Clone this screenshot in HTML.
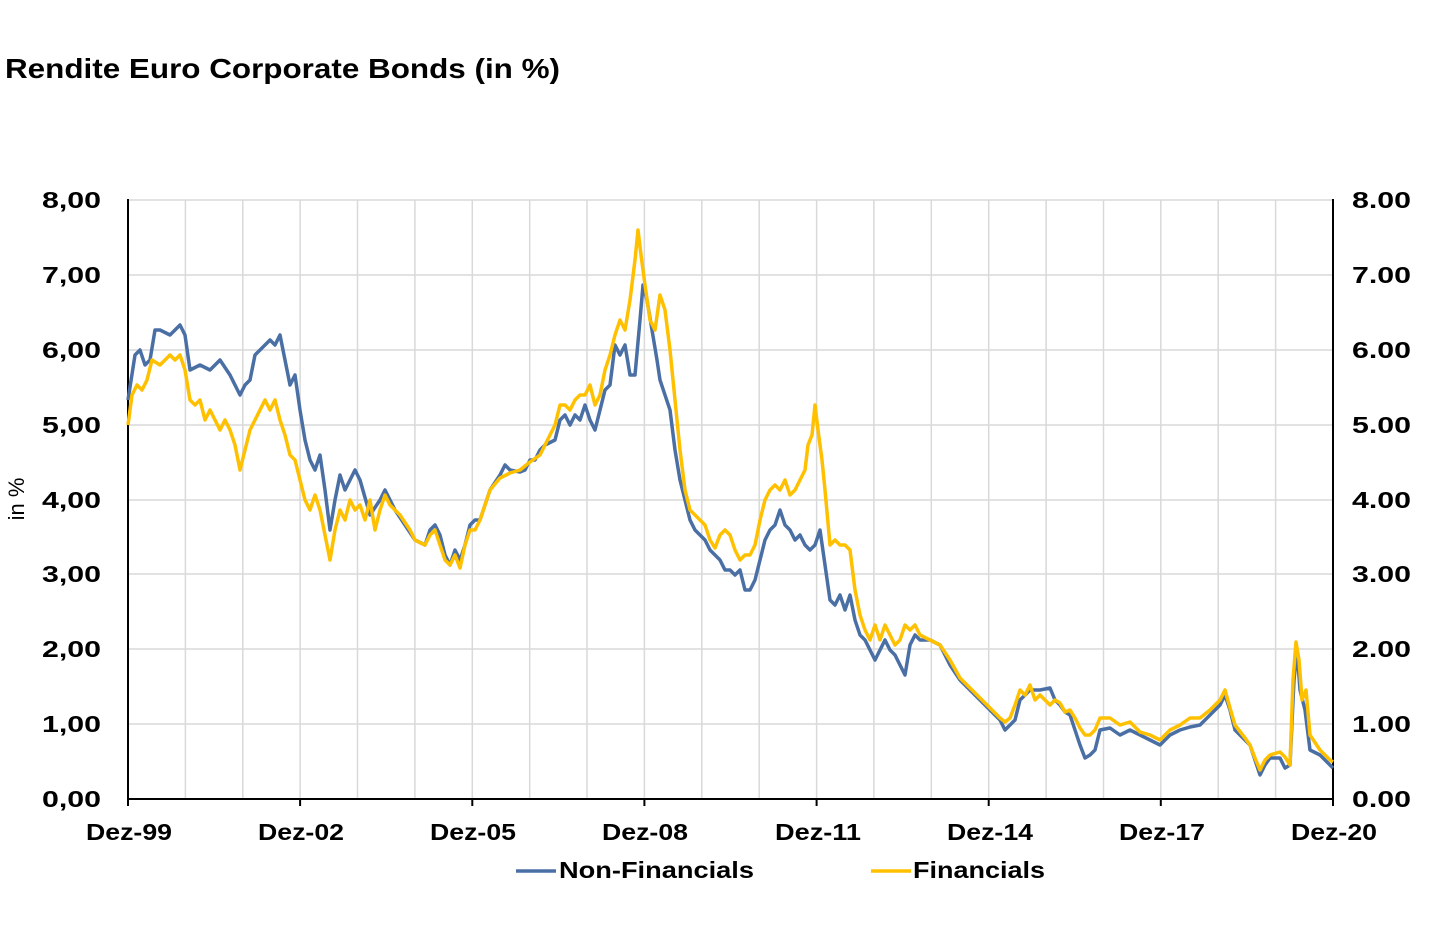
<!DOCTYPE html>
<html><head><meta charset="utf-8"><style>
body{margin:0;background:#fff;}
svg{display:block;font-family:"Liberation Sans",Arial,sans-serif;}
</style></head><body>
<svg width="1438" height="946" viewBox="0 0 1438 946" xmlns="http://www.w3.org/2000/svg">
<rect width="1438" height="946" fill="#fff"/>
<text x="5" y="78" font-size="28" font-weight="bold" fill="#000" textLength="555" lengthAdjust="spacingAndGlyphs">Rendite Euro Corporate Bonds (in %)</text>
<g stroke="#d9d9d9" stroke-width="1.5">
<line x1="128" y1="200" x2="1333" y2="200"/><line x1="128" y1="275" x2="1333" y2="275"/>
<line x1="128" y1="350" x2="1333" y2="350"/><line x1="128" y1="425" x2="1333" y2="425"/>
<line x1="128" y1="500" x2="1333" y2="500"/><line x1="128" y1="574" x2="1333" y2="574"/>
<line x1="128" y1="649" x2="1333" y2="649"/><line x1="128" y1="724" x2="1333" y2="724"/>
<line x1="185.4" y1="200" x2="185.4" y2="799"/><line x1="242.8" y1="200" x2="242.8" y2="799"/>
<line x1="300.1" y1="200" x2="300.1" y2="799"/><line x1="357.5" y1="200" x2="357.5" y2="799"/>
<line x1="414.9" y1="200" x2="414.9" y2="799"/><line x1="472.3" y1="200" x2="472.3" y2="799"/>
<line x1="529.7" y1="200" x2="529.7" y2="799"/><line x1="587" y1="200" x2="587" y2="799"/>
<line x1="644.4" y1="200" x2="644.4" y2="799"/><line x1="701.8" y1="200" x2="701.8" y2="799"/>
<line x1="759.2" y1="200" x2="759.2" y2="799"/><line x1="816.6" y1="200" x2="816.6" y2="799"/>
<line x1="873.9" y1="200" x2="873.9" y2="799"/><line x1="931.3" y1="200" x2="931.3" y2="799"/>
<line x1="988.7" y1="200" x2="988.7" y2="799"/><line x1="1046.1" y1="200" x2="1046.1" y2="799"/>
<line x1="1103.5" y1="200" x2="1103.5" y2="799"/><line x1="1160.8" y1="200" x2="1160.8" y2="799"/>
<line x1="1218.2" y1="200" x2="1218.2" y2="799"/><line x1="1275.6" y1="200" x2="1275.6" y2="799"/>
</g>
<g stroke="#000" stroke-width="2">
<line x1="128" y1="199" x2="128" y2="800"/><line x1="1333" y1="199" x2="1333" y2="800"/>
<line x1="127" y1="799" x2="1334" y2="799"/>
<line x1="128" y1="799" x2="128" y2="806"/><line x1="300.1" y1="799" x2="300.1" y2="806"/>
<line x1="472.3" y1="799" x2="472.3" y2="806"/><line x1="644.4" y1="799" x2="644.4" y2="806"/>
<line x1="816.6" y1="799" x2="816.6" y2="806"/><line x1="988.7" y1="799" x2="988.7" y2="806"/>
<line x1="1160.8" y1="799" x2="1160.8" y2="806"/><line x1="1333" y1="799" x2="1333" y2="806"/>
</g>
<g font-size="23" font-weight="bold" fill="#000">
<text x="42" y="208" textLength="59" lengthAdjust="spacingAndGlyphs">8,00</text>
<text x="42" y="283" textLength="59" lengthAdjust="spacingAndGlyphs">7,00</text>
<text x="42" y="358" textLength="59" lengthAdjust="spacingAndGlyphs">6,00</text>
<text x="42" y="433" textLength="59" lengthAdjust="spacingAndGlyphs">5,00</text>
<text x="42" y="508" textLength="59" lengthAdjust="spacingAndGlyphs">4,00</text>
<text x="42" y="582" textLength="59" lengthAdjust="spacingAndGlyphs">3,00</text>
<text x="42" y="657" textLength="59" lengthAdjust="spacingAndGlyphs">2,00</text>
<text x="42" y="732" textLength="59" lengthAdjust="spacingAndGlyphs">1,00</text>
<text x="42" y="807" textLength="59" lengthAdjust="spacingAndGlyphs">0,00</text>
<text x="1352" y="208" textLength="59" lengthAdjust="spacingAndGlyphs">8.00</text>
<text x="1352" y="283" textLength="59" lengthAdjust="spacingAndGlyphs">7.00</text>
<text x="1352" y="358" textLength="59" lengthAdjust="spacingAndGlyphs">6.00</text>
<text x="1352" y="433" textLength="59" lengthAdjust="spacingAndGlyphs">5.00</text>
<text x="1352" y="508" textLength="59" lengthAdjust="spacingAndGlyphs">4.00</text>
<text x="1352" y="582" textLength="59" lengthAdjust="spacingAndGlyphs">3.00</text>
<text x="1352" y="657" textLength="59" lengthAdjust="spacingAndGlyphs">2.00</text>
<text x="1352" y="732" textLength="59" lengthAdjust="spacingAndGlyphs">1.00</text>
<text x="1352" y="807" textLength="59" lengthAdjust="spacingAndGlyphs">0.00</text>
<text x="86" y="840" textLength="86" lengthAdjust="spacingAndGlyphs">Dez-99</text>
<text x="258" y="840" textLength="86" lengthAdjust="spacingAndGlyphs">Dez-02</text>
<text x="430" y="840" textLength="86" lengthAdjust="spacingAndGlyphs">Dez-05</text>
<text x="602" y="840" textLength="86" lengthAdjust="spacingAndGlyphs">Dez-08</text>
<text x="775" y="840" textLength="86" lengthAdjust="spacingAndGlyphs">Dez-11</text>
<text x="947" y="840" textLength="86" lengthAdjust="spacingAndGlyphs">Dez-14</text>
<text x="1119" y="840" textLength="86" lengthAdjust="spacingAndGlyphs">Dez-17</text>
<text x="1291" y="840" textLength="86" lengthAdjust="spacingAndGlyphs">Dez-20</text>
<text x="559" y="878" textLength="195" lengthAdjust="spacingAndGlyphs">Non-Financials</text>
<text x="913" y="878" textLength="132" lengthAdjust="spacingAndGlyphs">Financials</text>
</g>
<text transform="translate(24,499) rotate(-90)" font-size="22" text-anchor="middle" fill="#000">in %</text>
<polyline fill="none" stroke="#4a6fa5" stroke-width="3.5" stroke-linejoin="round" points="128,400 135,355 140,350 145,365 150,360 155,330 160,330 170,335 180,325 185,335 190,370 200,365 210,370 220,360 230,375 240,395 245,385 250,380 255,355 265,345 270,340 275,345 280,335 285,360 290,385 295,375 300,410 305,440 310,460 315,470 320,455 325,490 330,530 335,500 340,475 345,490 350,480 355,470 360,480 370,515 380,500 385,490 395,510 405,525 415,540 425,545 430,530 435,525 440,535 445,555 450,565 455,550 460,560 465,545 470,525 475,520 480,520 490,490 500,475 505,465 510,470 520,472 525,470 530,460 535,460 540,450 545,445 555,440 560,420 565,415 570,425 575,415 580,420 585,405 590,420 595,430 600,410 605,390 610,385 615,345 620,355 625,345 630,375 635,375 640,320 643,285 647,300 652,330 657,360 660,380 665,395 670,410 675,450 680,480 685,500 690,520 695,530 700,535 705,540 710,550 715,555 720,560 725,570 730,570 735,575 740,570 745,590 750,590 755,580 760,560 765,540 770,530 775,525 780,510 785,525 790,530 795,540 800,535 805,545 810,550 815,545 820,530 825,565 830,600 835,605 840,595 845,610 850,595 855,620 860,635 865,640 870,650 875,660 880,650 885,640 890,650 895,655 900,665 905,675 910,645 915,635 920,640 930,640 940,645 950,665 960,680 970,690 980,700 990,710 1000,720 1005,730 1010,725 1015,720 1020,700 1025,695 1030,690 1040,690 1050,688 1055,700 1060,705 1065,712 1070,715 1075,730 1080,745 1085,758 1090,755 1095,750 1100,730 1110,728 1120,735 1130,730 1140,735 1150,740 1160,745 1170,735 1180,730 1190,727 1200,725 1210,715 1220,705 1225,695 1230,710 1235,730 1245,740 1250,745 1255,760 1260,775 1265,765 1270,758 1280,758 1285,768 1290,765 1294,680 1297,650 1300,690 1305,710 1310,750 1320,755 1330,765 1333,768"/>
<polyline fill="none" stroke="#ffc000" stroke-width="3.5" stroke-linejoin="round" points="128,425 132,395 137,385 142,390 147,380 152,360 160,365 170,355 175,360 180,355 185,370 190,400 195,405 200,400 205,420 210,410 215,420 220,430 225,420 230,430 235,445 240,470 245,450 250,430 255,420 260,410 265,400 270,410 275,400 280,420 285,435 290,455 295,460 300,480 305,500 310,510 315,495 320,510 325,535 330,560 335,530 340,510 345,520 350,500 355,510 360,505 365,520 370,500 375,530 380,510 385,495 390,505 400,515 410,530 415,540 425,545 430,535 435,530 440,545 445,560 450,565 455,555 460,568 465,545 470,530 475,530 480,520 490,490 500,478 510,473 520,470 530,462 540,455 545,445 555,425 560,405 565,405 570,410 575,400 580,395 585,395 590,385 595,405 600,395 605,370 610,355 615,335 620,320 625,330 630,300 635,260 638,230 641,255 645,285 650,320 655,330 660,295 665,310 670,350 675,400 680,450 685,490 690,510 695,515 700,520 705,525 710,540 715,548 720,535 725,530 730,535 735,550 740,560 745,555 750,555 755,545 760,520 765,500 770,490 775,485 780,490 785,480 790,495 795,490 800,480 805,470 808,445 812,435 815,405 818,430 822,460 825,490 830,545 835,540 840,545 845,545 850,550 855,590 860,615 865,630 870,640 875,625 880,640 885,625 890,635 895,645 900,640 905,625 910,630 915,625 920,635 930,640 940,645 950,660 960,678 970,688 980,698 990,708 1000,718 1005,722 1010,718 1015,705 1020,690 1025,695 1030,685 1035,700 1040,695 1045,700 1050,705 1055,700 1060,703 1065,712 1070,710 1075,718 1080,728 1085,735 1090,735 1095,730 1100,718 1110,718 1120,725 1130,722 1140,732 1150,735 1160,740 1170,730 1180,725 1190,718 1200,718 1210,710 1220,700 1225,690 1230,708 1235,725 1245,738 1250,745 1255,758 1260,770 1265,760 1270,755 1280,752 1285,757 1290,765 1293,680 1296,642 1299,660 1302,700 1306,690 1310,735 1320,750 1330,760 1333,762"/>
<line x1="516" y1="871" x2="556" y2="871" stroke="#4a6fa5" stroke-width="3.5"/>
<line x1="871" y1="871" x2="911" y2="871" stroke="#ffc000" stroke-width="3.5"/>
</svg>
</body></html>
